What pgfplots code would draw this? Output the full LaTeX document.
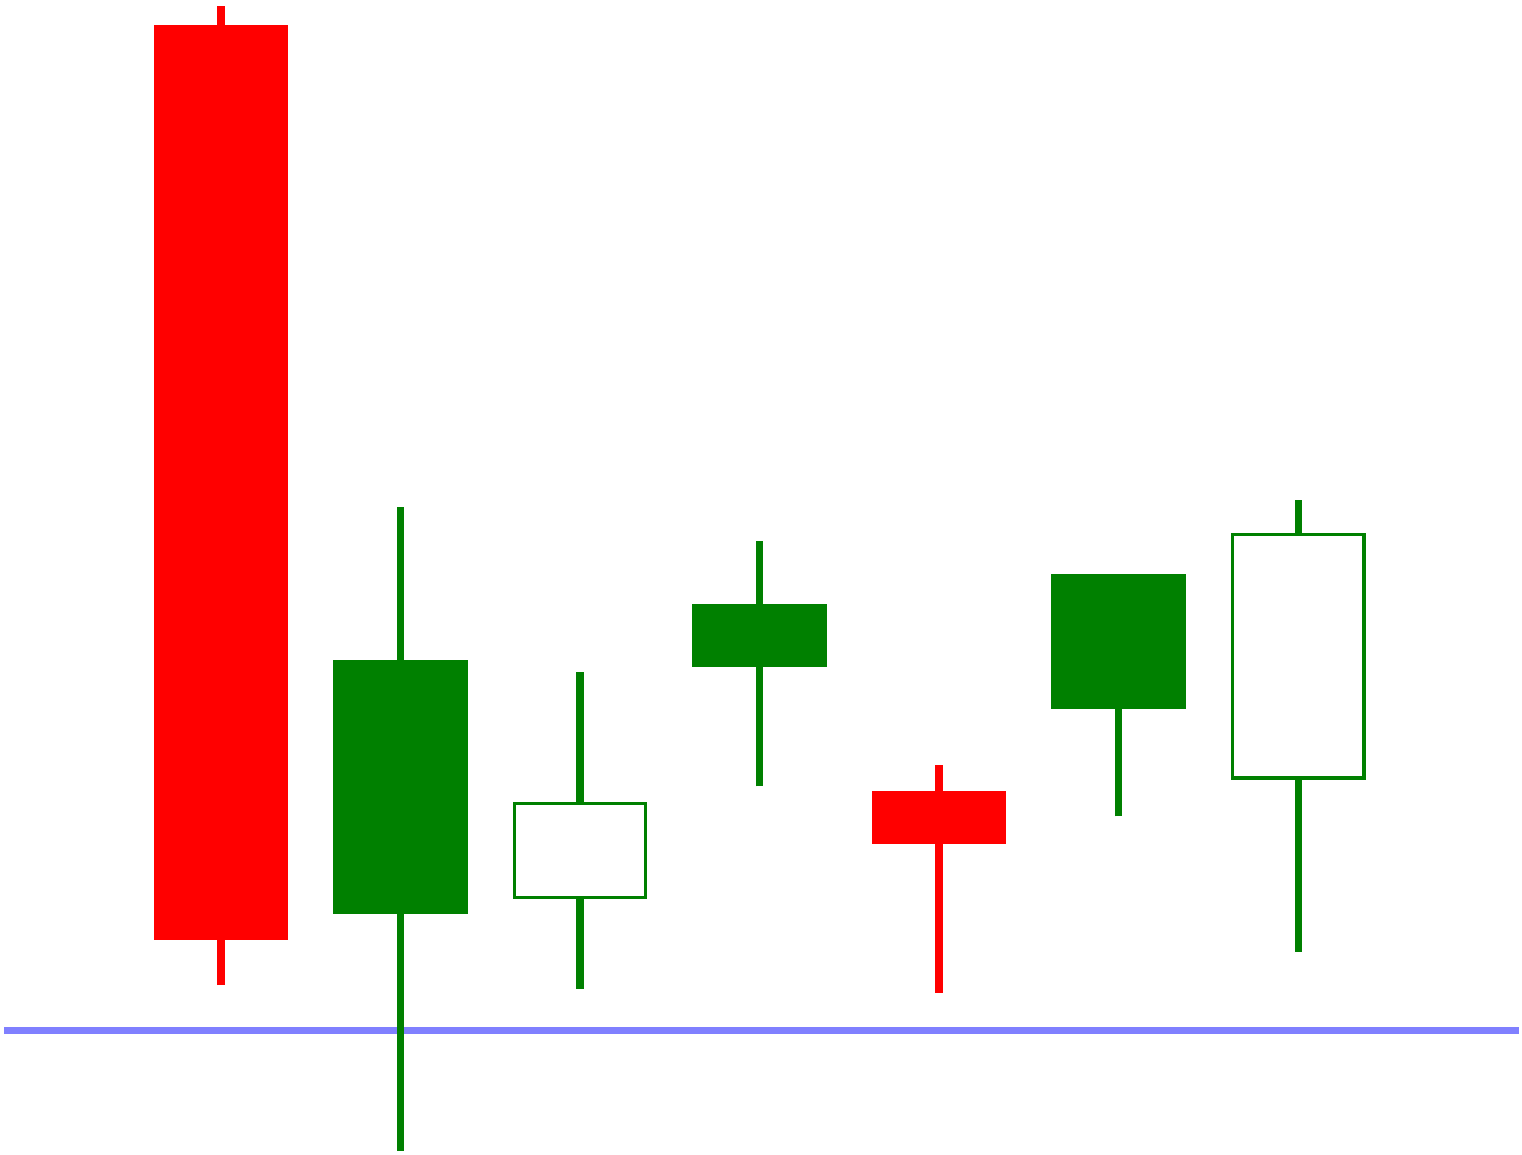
\documentclass[border=0pt]{standalone}
\usepackage{pgfplots}
\pgfplotsset{compat=1.18}
\definecolor{cred}{RGB}{255,0,0}
\definecolor{cgreen}{RGB}{0,128,0}
\definecolor{cblue}{RGB}{128,128,255}
\begin{document}
\begin{tikzpicture}
\begin{axis}[
  width=380.5pt, height=287.75pt, scale only axis,
  hide axis, clip=false,
  xmin=-0.2305, xmax=8.2439,
  ymin=-12.05, ymax=103.05,
]
\path (rel axis cs:0,0) rectangle (rel axis cs:1,1);
% baseline
\addplot[cblue, line width=1.75pt] coordinates {(-0.2082,0) (8.227,0)};
% candle 1 (red)
\addplot[cred, line width=1.85pt] coordinates {(1,4.5) (1,102.45)};
\addplot[fill=cred, draw=none] coordinates {(0.6256,9.0) (1.3744,9.0) (1.3744,100.55) (0.6256,100.55)} --cycle;
% candle 2 (green filled)
\addplot[cgreen, line width=1.75pt] coordinates {(2,-12.05) (2,52.35)};
\addplot[fill=cgreen, draw=none] coordinates {(1.6256,11.65) (2.3744,11.65) (2.3744,37.05) (1.6256,37.05)} --cycle;
% candle 3 (green hollow)
\addplot[cgreen, line width=1.85pt] coordinates {(3,4.15) (3,35.85)};
\addplot[fill=white, draw=cgreen, line width=0.8pt] coordinates {(2.635,13.27) (3.365,13.27) (3.365,22.67) (2.635,22.67)} --cycle;
% candle 4 (green filled)
\addplot[cgreen, line width=1.75pt] coordinates {(4,24.38) (4,48.95)};
\addplot[fill=cgreen, draw=none] coordinates {(3.6256,36.28) (4.3744,36.28) (4.3744,42.65) (3.6256,42.65)} --cycle;
% candle 5 (red)
\addplot[cred, line width=1.85pt] coordinates {(5,3.75) (5,26.55)};
\addplot[fill=cred, draw=none] coordinates {(4.6256,18.65) (5.3744,18.65) (5.3744,23.95) (4.6256,23.95)} --cycle;
% candle 6 (green filled)
\addplot[cgreen, line width=1.75pt] coordinates {(6,21.38) (6,45.65)};
\addplot[fill=cgreen, draw=none] coordinates {(5.6256,32.15) (6.3744,32.15) (6.3744,45.65) (5.6256,45.65)} --cycle;
% candle 7 (green hollow)
\addplot[cgreen, line width=1.75pt] coordinates {(7,7.85) (7,53.05)};
\addplot[fill=white, draw=cgreen, line width=0.85pt] coordinates {(6.634,25.23) (7.366,25.23) (7.366,49.58) (6.634,49.58)} --cycle;
\end{axis}
\end{tikzpicture}
\end{document}
